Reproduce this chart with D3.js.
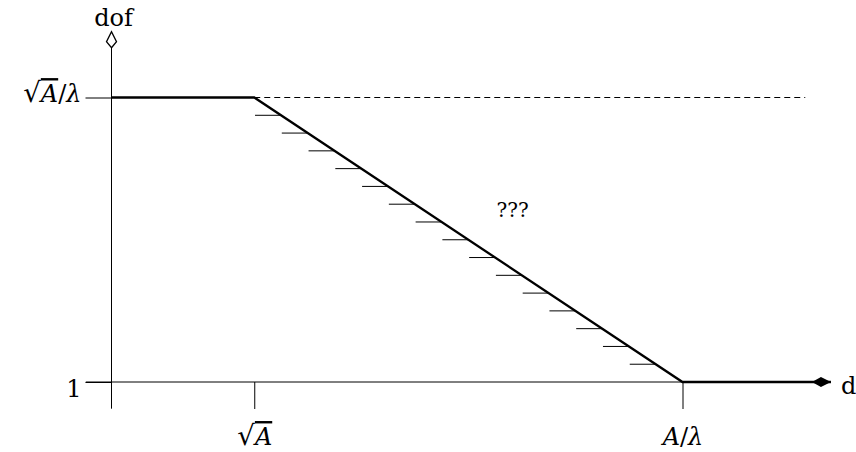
<!DOCTYPE html>
<html>
<head>
<meta charset="utf-8">
<script src="https://cdn.jsdelivr.net/npm/d3@7"></script>
<style>
  body { margin: 0; background: #fff; }
  text { font-family: "DejaVu Serif", serif; fill: #000; }
</style>
</head>
<body>
<div id="chart"></div>
<script>
// schematic values (d in units of sqrt(A), dof in 16 steps from 1 to sqrt(A)/lambda)
const xTickValues = [1, 4];
const xTickLabels = [["√", "A"], ["A", "/", "λ"]];
const yTickValues = [0, 16];
const yTickLabels = [["1"], ["√", "A", "/", "λ"]];
const curveD = [0, 1, 4, 5.04];
const curveDof = [16, 16, 0, 0];
const hatchDof = [1, 2, 3, 4, 5, 6, 7, 8, 9, 10, 11, 12, 13, 14, 15];
const dashedD = [1, 4.86];
const xAxisLabel = "d";
const yAxisLabel = "dof";
const noteLabel = "???";
const notePos = [2.81, 9.7];

const W = 856, H = 452;
const fontSize = 24;
const hatchLen = 26;

const svg = d3.select('#chart')
    .append('svg')
    .attr('width', W)
    .attr('height', H);

const x = d3.scaleLinear().domain([0, 4]).range([111.5, 682.5]);
const y = d3.scaleLinear().domain([0, 16]).range([382, 97.5]);

// italic for letters, upright for the rest, overline after a radical
const fillLabel = (sel, parts) => {
    sel.text(null);
    parts.forEach((p, i) => {
        const t = sel.append('tspan').text(p);
        if (p === 'A' || p === 'λ') t.style('font-style', 'italic');
        if (p === '√') t.attr('font-size', '1.15em');
        if (i > 0 && parts[i - 1] === '√') t.style('text-decoration', 'overline');
    });
};

// x axis (thin line + ticks)
svg.append('line')
    .attr('x1', x(-0.18)).attr('x2', x(5.04))
    .attr('y1', y(0)).attr('y2', y(0))
    .attr('stroke', '#000').attr('stroke-width', 1);

const gx = svg.append('g')
    .attr('transform', 'translate(0,' + y(0) + ')')
    .call(d3.axisBottom(x).tickValues(xTickValues).tickSize(27).tickPadding(19));
gx.select('.domain').remove();
gx.selectAll('.tick line').attr('stroke', '#000');
gx.selectAll('.tick text')
    .attr('font-family', '"DejaVu Serif", serif')
    .attr('font-size', fontSize)
    .each(function(d, i) { fillLabel(d3.select(this), xTickLabels[i]); });

// y axis
svg.append('line')
    .attr('x1', x(0)).attr('x2', x(0))
    .attr('y1', y(-1.5)).attr('y2', y(18.8))
    .attr('stroke', '#000').attr('stroke-width', 1);

const gy = svg.append('g')
    .attr('transform', 'translate(' + x(0) + ',0)')
    .call(d3.axisLeft(y).tickValues(yTickValues).tickSize(26).tickPadding(4));
gy.select('.domain').remove();
gy.selectAll('.tick line').attr('stroke', '#000');
gy.selectAll('.tick text')
    .attr('font-family', '"DejaVu Serif", serif')
    .attr('font-size', fontSize)
    .attr('dy', d => d === 0 ? '0.62em' : '0.17em')
    .each(function(d, i) { fillLabel(d3.select(this), yTickLabels[i]); });

// dashed continuation of the plateau
svg.append('line')
    .attr('x1', x(dashedD[0])).attr('x2', x(dashedD[1]))
    .attr('y1', y(16)).attr('y2', y(16))
    .attr('stroke', '#000').attr('stroke-width', 1)
    .attr('stroke-dasharray', '6,4');

// hatch marks left of the slope
const slopeX = d3.scaleLinear().domain([16, 0]).range([x(1), x(4)]);
svg.append('g')
    .selectAll('line')
    .data(hatchDof)
    .join('line')
    .attr('x1', d => slopeX(d) - hatchLen)
    .attr('x2', d => slopeX(d))
    .attr('y1', d => y(d))
    .attr('y2', d => y(d))
    .attr('stroke', '#000').attr('stroke-width', 1);

// main curve
const line = d3.line().x(d => x(d[0])).y(d => y(d[1]));
svg.append('path')
    .datum(d3.zip(curveD, curveDof))
    .attr('d', line)
    .attr('fill', 'none')
    .attr('stroke', '#000')
    .attr('stroke-width', 2.3);

// arrow heads
svg.append('path')
    .attr('transform', 'translate(' + x(5.04) + ',' + y(0) + ')')
    .attr('d', 'M0,0 L-10,-5 L-19,0 L-10,5 Z')
    .attr('fill', '#000');

svg.append('path')
    .attr('transform', 'translate(' + x(0) + ',' + y(18.8) + ')')
    .attr('d', 'M0,0 L5,-6 L0,-16 L-5,-6 Z')
    .attr('fill', '#fff')
    .attr('stroke', '#000')
    .attr('stroke-width', 1.3);

// axis titles and note
svg.append('text')
    .attr('x', x(0) + 2).attr('y', 26)
    .attr('text-anchor', 'middle')
    .attr('font-size', fontSize)
    .text(yAxisLabel);

svg.append('text')
    .attr('x', x(5.04) + 10).attr('y', y(0) + 12)
    .attr('font-size', fontSize)
    .text(xAxisLabel);

svg.append('text')
    .attr('x', x(notePos[0])).attr('y', y(notePos[1]))
    .attr('dy', '0.35em')
    .attr('text-anchor', 'middle')
    .attr('font-size', 20)
    .text(noteLabel);
</script>
</body>
</html>
